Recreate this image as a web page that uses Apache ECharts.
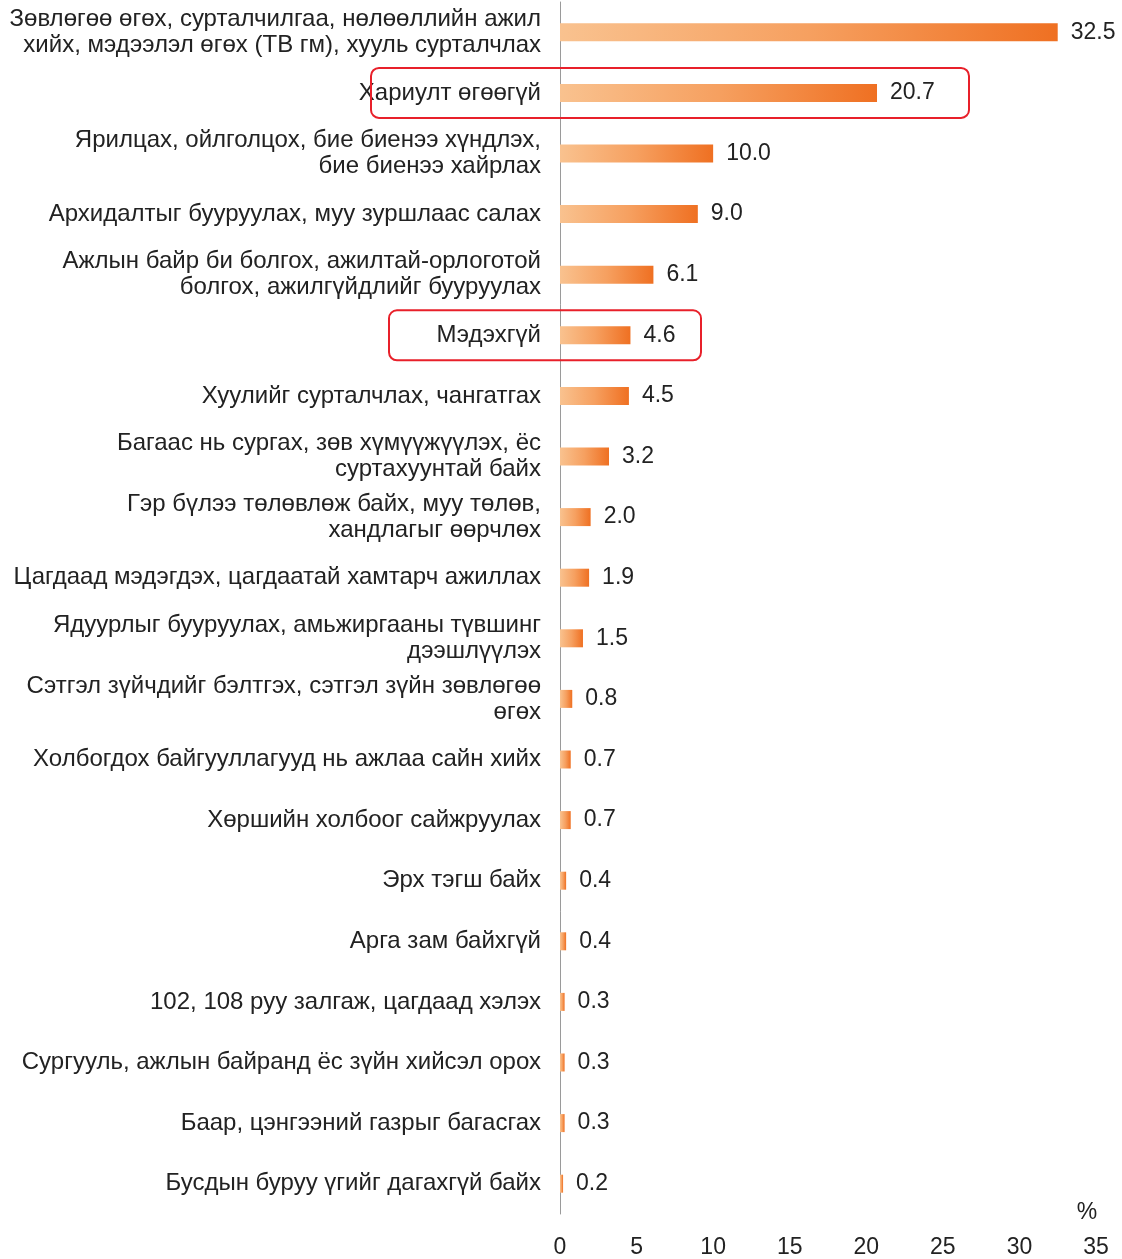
<!DOCTYPE html>
<html>
<head>
<meta charset="utf-8">
<script src="https://cdn.jsdelivr.net/npm/echarts@6/dist/echarts.min.js"></script>
<style>
  html, body { margin: 0; padding: 0; background: #fff; }
  #chart { width: 1122px; height: 1259px; }
</style>
</head>
<body>
<div id="chart"></div>
<script>
// ангилал (дээрээс доош)
var categories = [
  'Зөвлөгөө өгөх, сурталчилгаа, нөлөөллийн ажил\nхийх, мэдээлэл өгөх (ТВ гм), хууль сурталчлах',
  'Хариулт өгөөгүй',
  'Ярилцах, ойлголцох, бие биенээ хүндлэх,\nбие биенээ хайрлах',
  'Архидалтыг бууруулах, муу зуршлаас салах',
  'Ажлын байр би болгох, ажилтай-орлоготой\nболгох, ажилгүйдлийг бууруулах',
  'Мэдэхгүй',
  'Хуулийг сурталчлах, чангатгах',
  'Багаас нь сургах, зөв хүмүүжүүлэх, ёс\nсуртахуунтай байх',
  'Гэр бүлээ төлөвлөж байх, муу төлөв,\nхандлагыг өөрчлөх',
  'Цагдаад мэдэгдэх, цагдаатай хамтарч ажиллах',
  'Ядуурлыг бууруулах, амьжиргааны түвшинг\nдээшлүүлэх',
  'Сэтгэл зүйчдийг бэлтгэх, сэтгэл зүйн зөвлөгөө\nөгөх',
  'Холбогдох байгууллагууд нь ажлаа сайн хийх',
  'Хөршийн холбоог сайжруулах',
  'Эрх тэгш байх',
  'Арга зам байхгүй',
  '102, 108 руу залгаж, цагдаад хэлэх',
  'Сургууль, ажлын байранд ёс зүйн хийсэл орох',
  'Баар, цэнгээний газрыг багасгах',
  'Бусдын буруу үгийг дагахгүй байх'
];
var values = [32.5, 20.7, 10.0, 9.0, 6.1, 4.6, 4.5, 3.2, 2.0, 1.9, 1.5, 0.8, 0.7, 0.7, 0.4, 0.4, 0.3, 0.3, 0.3, 0.2];
var xTicks = [0, 5, 10, 15, 20, 25, 30, 35];
// тэмдэглэсэн мөрүүд (улаан хүрээ)
var highlighted = [1, 5];

var font = '"Liberation Sans", Arial, sans-serif';
var myChart = echarts.init(document.getElementById('chart'));

myChart.setOption({
  animation: false,
  grid: { left: 560, right: 26, top: 2, bottom: 43 },
  xAxis: {
    type: 'value',
    min: xTicks[0],
    max: xTicks[xTicks.length - 1],
    interval: 5,
    axisLine: { show: false },
    axisTick: { show: false },
    splitLine: { show: false },
    axisLabel: { color: '#222', fontSize: 23, fontFamily: font, margin: 22 }
  },
  yAxis: {
    type: 'category',
    inverse: true,
    data: categories,
    axisLine: { show: true, lineStyle: { color: '#9a9a9a', width: 1 } },
    axisTick: { show: false },
    axisLabel: {
      color: '#222', fontSize: 24, fontFamily: font, margin: 19,
      align: 'right', lineHeight: 26, padding: [5, 0, 0, 0]
    }
  },
  series: [{
    type: 'bar',
    data: values,
    barWidth: 18,
    itemStyle: {
      color: new echarts.graphic.LinearGradient(0, 0, 1, 0, [
        { offset: 0, color: '#f9c28f' },
        { offset: 0.5, color: '#f6a060' },
        { offset: 1, color: '#ef7022' }
      ])
    },
    label: {
      show: true,
      position: 'right',
      distance: 13,
      color: '#222',
      fontSize: 23,
      fontFamily: font,
      padding: [4, 0, 0, 0],
      formatter: function (p) { return p.value.toFixed(1); }
    }
  }]
});

// улаан хүрээ, % тэмдэг
var boxRight = { 1: 969, 5: 701 };
var boxLeft = { 1: 371, 5: 389 };
var graphics = highlighted.map(function (i) {
  var cy = myChart.convertToPixel({ yAxisIndex: 0 }, i);
  return {
    type: 'rect',
    shape: { x: boxLeft[i], y: cy - 25, width: boxRight[i] - boxLeft[i], height: 50, r: 8 },
    style: { fill: 'none', stroke: '#e8202a', lineWidth: 2 },
    z: 10
  };
});
var px = myChart.convertToPixel({ xAxisIndex: 0 }, 35);
graphics.push({
  type: 'text',
  x: px - 9,
  y: 1213,
  style: { text: '%', fill: '#222', fontSize: 23, fontFamily: font, align: 'center', verticalAlign: 'middle' }
});
myChart.setOption({ graphic: graphics });
</script>
</body>
</html>
